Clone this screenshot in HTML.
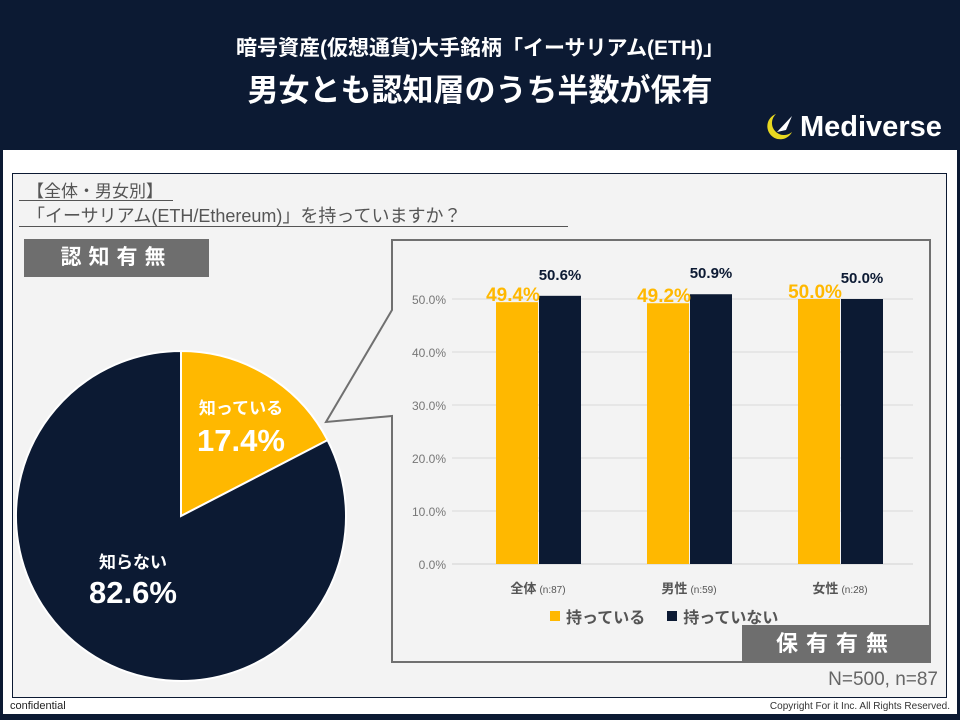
<!DOCTYPE html>
<html><head><meta charset="utf-8"><style>
body{margin:0;width:960px;height:720px;overflow:hidden;background:#0c1a33;font-family:"Liberation Sans","Noto Sans CJK JP",sans-serif}
.abs{position:absolute}
</style></head><body>
<div style="position:relative;width:960px;height:720px">
<div class="abs" style="left:0;width:960px;top:32px;text-align:center;color:#fff;font-size:21px;font-weight:bold">暗号資産(仮想通貨)大手銘柄「イーサリアム(ETH)」</div>
<div class="abs" style="left:0;width:960px;top:65px;text-align:center;color:#fff;font-size:31px;font-weight:bold">男女とも認知層のうち半数が保有</div>
<div class="abs" style="left:762px;top:110px;color:#fff;font-size:29px;font-weight:bold;display:flex;align-items:center">
<svg width="34" height="34" viewBox="0 0 34 34"><path d="M14 4 A13 13 0 1 0 30 22 A11 11 0 0 1 14 4" fill="#e8d820"/><path d="M15 22 L30 6 L24 20 Z" fill="#fff"/></svg><span style="margin-left:4px">Mediverse</span></div>
<div class="abs" style="left:3px;top:150px;width:954px;height:564px;background:#fff"></div>
<div class="abs" style="left:12px;top:173px;width:933px;height:523px;background:#f3f3f3;border:1px solid #0c1a33"></div>
<div class="abs" style="left:19px;top:177px;width:146px;font-size:17px;color:#555;border-bottom:1px solid #555;padding-left:8px;height:23px">【全体・男女別】</div>
<div class="abs" style="left:19px;top:202px;width:541px;font-size:18px;color:#555;border-bottom:1px solid #555;height:24px;padding-left:8px">「イーサリアム(ETH/Ethereum)」を持っていますか？</div>
<div class="abs" style="left:24px;top:239px;width:185px;height:38px;background:#6e6e6e;color:#fff;font-size:21px;font-weight:bold;text-align:center;line-height:38px;letter-spacing:7px">認知有無</div>
<svg class="abs" style="left:0;top:0" width="960" height="720" id="svg">
<path d="M392,240 L930,240 L930,662 L392,662 L392,416 L326,422 L392,310 Z" fill="#f3f3f3" stroke="#707070" stroke-width="2"/>
<g id="pie"></g><g id="bars"></g>
</svg>
<div class="abs" style="left:550px;top:604px;font-size:16px;font-weight:bold;color:#555;display:flex;align-items:center">
<span style="width:10px;height:10px;background:#ffb800;display:inline-block;margin-right:6px"></span>持っている<span style="width:10px;height:10px;background:#0c1a33;display:inline-block;margin:0 6px 0 22px"></span>持っていない</div>
<div class="abs" style="left:742px;top:625px;width:188px;height:37px;background:#6e6e6e;color:#fff;font-size:22px;font-weight:bold;text-align:center;line-height:37px;letter-spacing:8px">保有有無</div>
<div class="abs" style="right:22px;top:669px;font-size:19px;color:#666">N=500, n=87</div>
<div class="abs" style="left:10px;top:700px;font-size:11px;color:#222">confidential</div>
<div class="abs" style="right:10px;top:701px;font-size:10px;color:#333">Copyright For it Inc. All Rights Reserved.</div>
</div>
<script>
const pieLabels=["知っている","知らない"];
const pieValues=[17.4,82.6];
const pieColors=["#ffb800","#0c1a33"];
const categories=["全体","男性","女性"];
const catN=["(n:87)","(n:59)","(n:28)"];
const hasValues=[49.4,49.2,50.0];
const notValues=[50.6,50.9,50.0];
const yTicks=[0,10,20,30,40,50];
const NS="http://www.w3.org/2000/svg";
function mk(tag,attrs,parent,text){const e=document.createElementNS(NS,tag);for(const k in attrs)e.setAttribute(k,attrs[k]);if(text!==undefined)e.textContent=text;parent.appendChild(e);return e;}
const pie=document.getElementById('pie');const cx=181,cy=516,r=165;
let a0=0;const tot=pieValues.reduce((a,b)=>a+b,0);
const labelPos=[[241,408,241,440],[133,562,133,592]];
pieValues.forEach((v,i)=>{const a1=a0+v/tot*2*Math.PI;
const p=(a)=>[cx+r*Math.sin(a),cy-r*Math.cos(a)];const s=p(a0),e=p(a1);
const el=mk('path',{d:`M${cx},${cy} L${s[0]},${s[1]} A${r},${r} 0 ${a1-a0>Math.PI?1:0} 1 ${e[0]},${e[1]} Z`,fill:pieColors[i],stroke:'#fff','stroke-width':2},pie);


const lp=labelPos[i];
const t1=mk('text',{x:lp[0],y:lp[1]+6,'text-anchor':'middle',fill:'#fff','font-size':17,'font-weight':'bold'},pie,pieLabels[i]);


const t2=mk('text',{x:lp[2],y:lp[3]+11,'text-anchor':'middle',fill:'#fff','font-size':31,'font-weight':'bold'},pie,v.toFixed(1)+'%');


a0=a1;});
const g=document.getElementById('bars');
const y=v=>564-v*5.3;const gx=i=>538+i*151;const bw=42;
yTicks.forEach(t=>{const l=mk('line',{x1:452,x2:913,y1:y(t),y2:y(t),stroke:t?'#d9d9d9':'#d0d0d0','stroke-width':1},g);


const tx=mk('text',{x:446,y:y(t)+5,'text-anchor':'end',fill:'#777','font-size':12},g,t.toFixed(1)+'%');

});
categories.forEach((c,i)=>{const x=gx(i);
const b1=mk('rect',{x:x-bw,y:y(hasValues[i]),width:bw,height:564-y(hasValues[i]),fill:'#ffb800'},g);


const b2=mk('rect',{x:x+1,y:y(notValues[i]),width:bw,height:564-y(notValues[i]),fill:'#0c1a33'},g);


const l1=mk('text',{x:x-bw/2-4,y:y(hasValues[i])-1,'text-anchor':'middle',fill:'#ffb800','font-size':19,'font-weight':'bold'},g,hasValues[i].toFixed(1)+'%');


const l2=mk('text',{x:x+1+bw/2,y:y(notValues[i])-16,'text-anchor':'middle',fill:'#0c1a33','font-size':15,'font-weight':'bold'},g,notValues[i].toFixed(1)+'%');


const cl=mk('text',{x:x,y:593,'text-anchor':'middle',fill:'#555','font-size':13,'font-weight':'bold'},g);


mk('tspan',{},cl,c);mk('tspan',{'font-size':10,'font-weight':'normal',dx:3},cl,catN[i]);});
</script>
</body></html>
